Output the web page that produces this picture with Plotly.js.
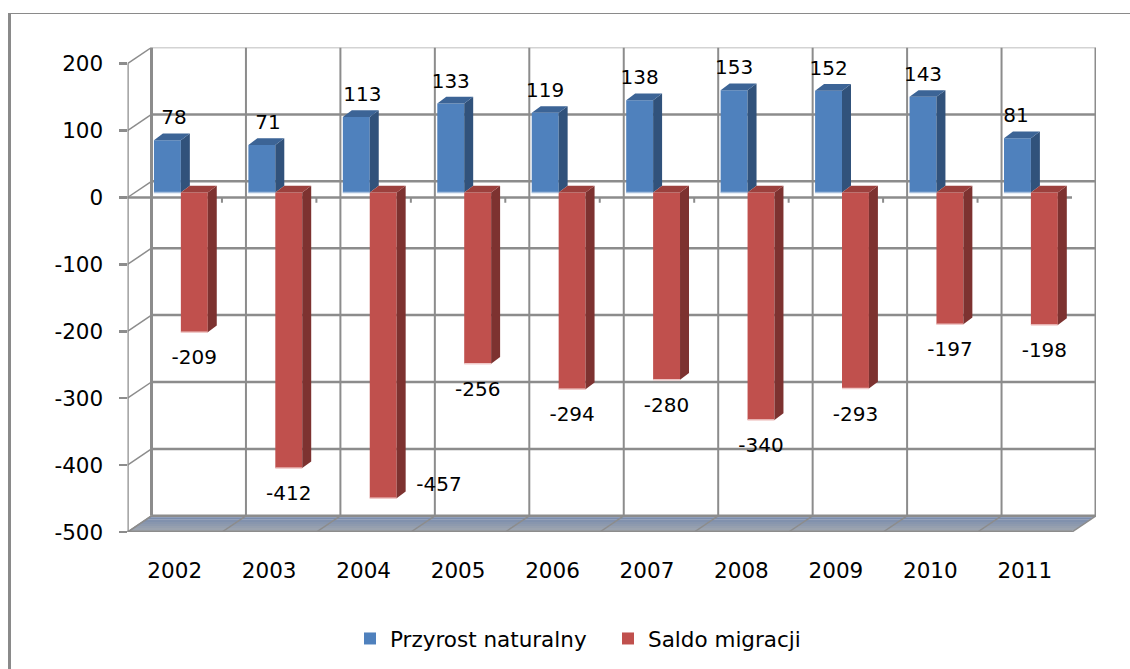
<!DOCTYPE html>
<html><head><meta charset="utf-8">
<script src="https://cdn.plot.ly/plotly-3.0.1.min.js"></script>
<style>html,body{margin:0;padding:0;background:#fff}#c{width:1130px;height:669px}</style>
</head><body><div id="c"></div>
<script>
const years = ['2002','2003','2004','2005','2006','2007','2008','2009','2010','2011'];
const przyrost = [78,71,113,133,119,138,153,152,143,81];
const saldo = [-209,-412,-457,-256,-294,-280,-340,-293,-197,-198];
const yTicks = [-500,-400,-300,-200,-100,0,100,200];

const W=1130,H=669,L=127.5,R=1096,T=47.5,B=532;
const pxPerCat=94.45, pxPerUnit=0.669;
const wallDx=(R-L)/pxPerCat-10;         // depth of the whole box, category units
const wallDy=(B-T)/pxPerUnit-700;       // depth of the whole box, value units
const grid='#8c8c8c';
const n=years.length, cats=years.map((_,i)=>i);

const line=(x0,y0,x1,y1,w,c)=>({type:'line',xref:'x',yref:'y',layer:'below',x0,y0,x1,y1,line:{color:c||grid,width:w||2}});
const px=(v)=>v/W, py=(v)=>1-v/H;
const shapes=[];
// chart frame
shapes.push({type:'line',xref:'paper',yref:'paper',layer:'below',x0:px(9.5),x1:px(9.5),y0:py(13),y1:py(669),line:{color:'#8a8a8a',width:3}});
shapes.push({type:'line',xref:'paper',yref:'paper',layer:'below',x0:px(9),x1:px(1130),y0:py(13.5),y1:py(13.5),line:{color:'#8a8a8a',width:1}});
// floor with a vertical gradient
const strips=8;
for(let s=0;s<strips;s++){
  const a=s/strips,b=(s+1)/strips;
  const c=`rgb(${Math.round(116+52*a)},${Math.round(136+36*a)},${Math.round(172+4*a)})`;
  const y0=-500+wallDy*(1-a),y1=-500+wallDy*(1-b);
  const x0a=wallDx*(1-a),x0b=wallDx*(1-b);
  shapes.push({type:'path',xref:'x',yref:'y',layer:'below',
    path:`M${x0a},${y0}L${10+x0a},${y0}L${10+x0b},${y1}L${x0b},${y1}Z`,fillcolor:c,line:{width:0}});
}
// back wall and left wall
yTicks.forEach(v=>{
  shapes.push(line(wallDx,v+wallDy,10+wallDx,v+wallDy,v===200?1.5:2.5,v===200?'#a8a8a8':grid));
  shapes.push(line(0,v,wallDx,v+wallDy,1.5));
});
for(let i=0;i<=n;i++){
  shapes.push(line(i+wallDx,-500+wallDy,i+wallDx,200+wallDy,i===0||i===n?3:2));
  shapes.push(line(i,-500,i+wallDx,-500+wallDy,1.5));
  if(i>0&&i<n) shapes.push(line(i,0,i,-8,2));
}
// front axes
shapes.push(line(0,-500,0,200,2.5));
shapes.push(line(-0.08,-500,10,-500,3));
shapes.push(line(-0.08,0,10,0,2.5));

// 3-D bar geometry, in category / value units
const barStart=0.28, barDy=7.5, barW=0.285, sideDx=0.095, sideDy=10;
const blueX=cats.map(i=>i+barStart+barW/2), redX=cats.map(i=>i+barStart+barW*1.5);
const face=(xs,ys,color)=>({type:'scatter',mode:'lines',x:xs,y:ys,fill:'toself',fillcolor:color,
  line:{width:0,color:color},hoverinfo:'skip',showlegend:false});
function sideFaces(xc,vals,color){
  const xs=[],ys=[];
  vals.forEach((v,i)=>{const x=xc[i]+barW/2;
    xs.push(x,x+sideDx,x+sideDx,x,x,null);
    ys.push(barDy,barDy+sideDy,barDy+v+sideDy,barDy+v,barDy,null);});
  return face(xs,ys,color);
}
function topFaces(xc,vals,color){
  const xs=[],ys=[];
  vals.forEach((v,i)=>{const x=xc[i]-barW/2,t=barDy+Math.max(v,0);
    xs.push(x,x+barW,x+barW+sideDx,x+sideDx,x,null);
    ys.push(t,t,t+sideDy,t+sideDy,t,null);});
  return face(xs,ys,color);
}
function edges(xc,vals,color){
  const xs=[],ys=[];
  vals.forEach((v,i)=>{const b=barDy+Math.min(v,0);
    xs.push(xc[i]-barW/2,xc[i]+barW/2,null);ys.push(b,b,null);});
  return {type:'scatter',mode:'lines',x:xs,y:ys,line:{width:1.5,color},hoverinfo:'skip',showlegend:false};
}
const bar=(name,x,y,color)=>({type:'bar',name,x,y,base:y.map(()=>barDy),width:barW,
  marker:{color,line:{width:0}},hoverinfo:'x+y'});

// data labels
const labFont={family:'"DejaVu Sans",sans-serif',size:20,color:'#000'};
const blueLabelDx=[0.07,0.065,0.065,0,0,0,0,0,0,-0.015];
const redLabelDx=[0,0,0.59,0,0,0,0,0,0,0];
const blueLabelY=przyrost.map(v=>barDy+v+21/pxPerUnit);
const redLabelY=saldo.map((v,i)=>barDy+v+(v===-457?12:-27)/pxPerUnit);
const labels=(x,y,vals)=>({type:'scatter',mode:'text',x,y,text:vals.map(String),textposition:'middle center',
  textfont:labFont,hoverinfo:'skip',showlegend:false,cliponaxis:false});

const data=[
  bar('Przyrost naturalny',blueX,przyrost,'#4f81bd'),
  bar('Saldo migracji',redX,saldo,'#c0504d'),
  edges(blueX,przyrost,'#a9c1df'),
  edges(redX,saldo,'#f0c9c8'),
  sideFaces(blueX,przyrost,'#31527b'),
  topFaces(blueX,przyrost,'#3c6496'),
  sideFaces(redX,saldo,'#7d3230'),
  topFaces(redX,saldo,'#9c403d'),
  labels(blueX.map((x,i)=>x+blueLabelDx[i]),blueLabelY,przyrost),
  labels(redX.map((x,i)=>x+redLabelDx[i]),redLabelY,saldo)
];
const font={family:'"DejaVu Sans",sans-serif',size:21.5,color:'#000'};
const layout={
  width:W,height:H,autosize:false,
  margin:{l:0,r:0,t:0,b:0,pad:0},
  paper_bgcolor:'#fff',plot_bgcolor:'rgba(0,0,0,0)',
  barmode:'overlay',font,
  xaxis:{domain:[L/W,R/W],range:[0,10+wallDx],tickmode:'array',tickvals:cats.map(i=>i+0.5),ticktext:years,
    showgrid:false,zeroline:false,showline:false,ticks:'',ticklabelstandoff:23,tickfont:font,fixedrange:true,automargin:false},
  yaxis:{domain:[1-B/H,1-T/H],range:[-500,200+wallDy],tickmode:'array',tickvals:yTicks,ticktext:yTicks.map(String),
    showgrid:false,zeroline:false,showline:false,ticks:'outside',ticklen:8,tickwidth:2.5,tickcolor:grid,
    tickfont:font,ticklabelstandoff:11,fixedrange:true,automargin:false},
  shapes,
  showlegend:true,
  legend:{orientation:'h',x:px(350),y:py(618),xanchor:'left',yanchor:'top',font:{...font},
    entrywidthmode:'pixels',entrywidth:213,
    bgcolor:'rgba(0,0,0,0)',traceorder:'normal'},
};
Plotly.newPlot('c',data,layout,{displayModeBar:false,staticPlot:true});
</script></body></html>
